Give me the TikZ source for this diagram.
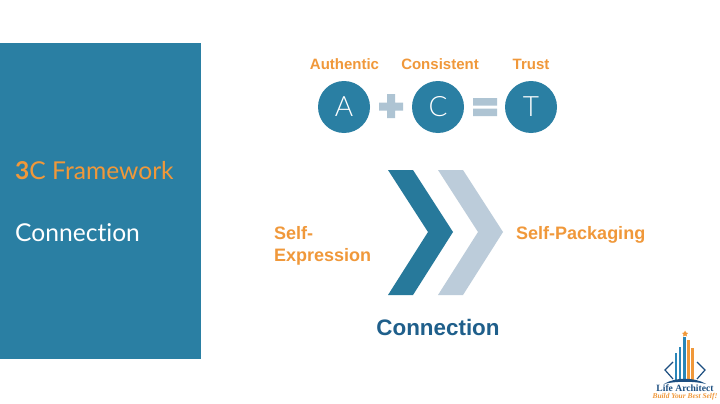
\documentclass[tikz,border=0pt]{standalone}
\usepackage{fontspec}
\setmainfont{Liberation Sans}
\newfontfamily\gillfont[Ligatures=NoCommon]{Lato}
\newfontfamily\thinfont{Lato Light}
\newfontfamily\logofont{Liberation Serif}
\usetikzlibrary{positioning}
\definecolor{panelblue}{HTML}{2A7FA3}
\definecolor{chevdark}{HTML}{27799B}
\definecolor{chevlight}{HTML}{BCCCDA}
\definecolor{opblue}{HTML}{AEC4D3}
\definecolor{labelorange}{HTML}{F0983A}
\definecolor{headblue}{HTML}{1F5F8B}
\definecolor{logoblue}{HTML}{2A86B8}
\definecolor{logonavy}{HTML}{1C4E80}

\begin{document}
\begin{tikzpicture}[
    x=1pt, y=-1pt,
    letter/.style={circle, fill=panelblue, minimum size=52pt, inner sep=0pt,
                   text=white, font=\thinfont\fontsize{28}{28}\selectfont},
    toplabel/.style={text=labelorange, font=\fontsize{15}{15}\selectfont\bfseries, inner sep=0pt},
    sidelabel/.style={text=labelorange, font=\fontsize{18}{22}\selectfont\bfseries,
                      inner sep=0pt, align=left},
    paneltext/.style={font=\gillfont\fontsize{24.6}{25}\selectfont, inner sep=0pt, anchor=west},
    logobar/.style={line width=2.8pt}
  ]
  \useasboundingbox (0,0) rectangle (720,404);
  \fill[white] (0,0) rectangle (720,404);

  % left panel
  \fill[panelblue] (0,43) rectangle (201,359);
  \node[paneltext, text=labelorange] (framework) at (15,171) {\textbf{3}C Framework};
  \node[paneltext, text=white] (panelconn) at (15,233) {Connection};

  % A + C = T
  \node[letter] (a) at (344,107) {A};
  \node[letter] (c) at (438,107) {C};
  \node[letter] (t) at (531,107) {T};
  \node[toplabel] (authentic) at (344.5,64.5) {Authentic};
  \node[toplabel] (consistent) at (440,64.5) {Consistent};
  \node[toplabel] (trust) at (531,64.5) {Trust};
  \fill[opblue] (387,94) rectangle (395,118) (379,102.5) rectangle (403,110.5);
  \fill[opblue] (473,98) rectangle (497,105.5) (473,108.5) rectangle (497,116);

  % chevrons
  \fill[chevdark] (388,170) -- (413,170) -- (453,232) -- (413,295) -- (388,295) -- (428,232) -- cycle;
  \fill[chevlight] (438,170) -- (463,170) -- (503,232) -- (463,295) -- (438,295) -- (478,232) -- cycle;
  \node[sidelabel, anchor=west] (selfexpr) at (274,245.5) {Self-\\Expression};
  \node[sidelabel, anchor=west] (selfpack) at (516,234.5) {Self-Packaging};
  \node[inner sep=0pt, text=headblue, font=\fontsize{22.4}{22.4}\selectfont\bfseries] (conn) at (438,327.5) {Connection};

  % logo
  \fill[labelorange] (685,330.5) -- (686,332.5) -- (688,333) -- (686.5,334.5) -- (687,336.5)
    -- (685,335.5) -- (683,336.5) -- (683.5,334.5) -- (682,333) -- (684,332.5) -- cycle;
  \draw[logobar, logoblue] (676,380) -- (676,353);
  \draw[logobar, logoblue] (680,380) -- (680,347);
  \draw[logobar, logoblue] (684.5,380) -- (684.5,337);
  \draw[logobar, labelorange] (688.5,380) -- (688.5,340);
  \draw[logobar, labelorange] (692.5,380) -- (692.5,348);
  \draw[logonavy, line width=1.2pt] (673,362) -- (665,370) -- (673,379);
  \draw[logonavy, line width=1.2pt] (697,362) -- (705,370) -- (697,379);
  \fill[logonavy] (664,384) .. controls (675,377) and (695,377) .. (706,384)
    .. controls (695,381) and (675,381) .. (664,384) -- cycle;
  \node[inner sep=0pt, text=logonavy, font=\logofont\fontsize{9.6}{9.6}\selectfont\bfseries] (logoname) at (685,388.5) {Life Architect};
  \node[inner sep=0pt, text=labelorange, font=\logofont\fontsize{7.4}{7.4}\selectfont\bfseries\itshape] (logotag) at (685,397) {Build Your Best Self!};
\end{tikzpicture}
\end{document}
